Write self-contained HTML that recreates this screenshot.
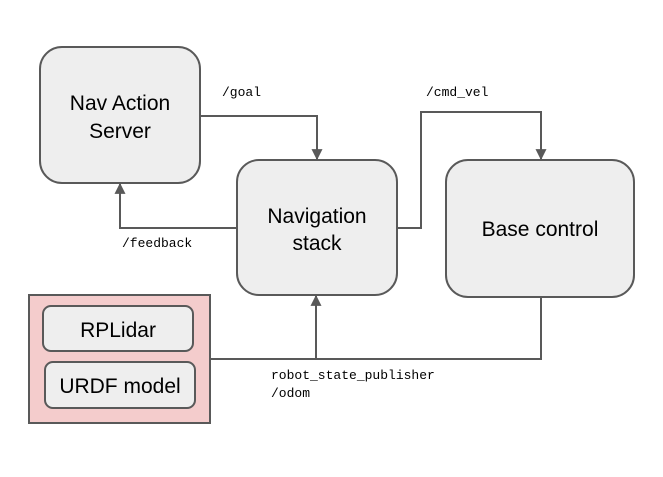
<!DOCTYPE html>
<html><head><style>body{margin:0;background:#fff}</style></head><body>
<svg width="663" height="472" xmlns="http://www.w3.org/2000/svg">
<defs>
<marker id="b" viewBox="0 0 10 10" refX="9" refY="5" markerWidth="12" markerHeight="11" orient="auto" markerUnits="userSpaceOnUse"><path d="M0,0 L10,5 L0,10 z" fill="#595959"/></marker></defs>
<g fill="none" stroke="#595959" stroke-width="2">
<polyline points="200,116 317,116 317,159" marker-end="url(#b)"/>
<polyline points="237,228 120,228 120,184" marker-end="url(#b)"/>
<polyline points="397,228 421,228 421,112 541,112 541,159" marker-end="url(#b)"/>
<polyline points="210,359 541,359 541,297"/>
<polyline points="316,359 316,296" marker-end="url(#b)"/>
</g>
<g stroke="#595959" stroke-width="2" fill="#eeeeee">
<rect x="40" y="47" width="160" height="136" rx="22"/>
<rect x="237" y="160" width="160" height="135" rx="22"/>
<rect x="446" y="160" width="188" height="137" rx="22"/>
<rect x="29" y="295" width="181" height="128" fill="#f4cccc"/>
<rect x="43" y="306" width="150" height="45" rx="8"/>
<rect x="45" y="362" width="150" height="46" rx="8"/>
</g>
<g font-family="Liberation Sans, sans-serif" font-size="21" fill="#000" text-anchor="middle">
<text x="120" y="110">Nav Action</text><text x="120" y="138">Server</text>
<text x="317" y="223">Navigation</text><text x="317" y="250">stack</text>
<text x="540" y="236">Base control</text>
<text x="118" y="337">RPLidar</text>
<text x="120" y="393">URDF model</text>
</g>
<g font-family="Liberation Mono, monospace" font-size="13" fill="#000">
<text x="222" y="96">/goal</text>
<text x="426" y="96">/cmd_vel</text>
<text x="122" y="247">/feedback</text>
<text x="271" y="379">robot_state_publisher</text>
<text x="271" y="397">/odom</text>
</g>
</svg>
</body></html>
